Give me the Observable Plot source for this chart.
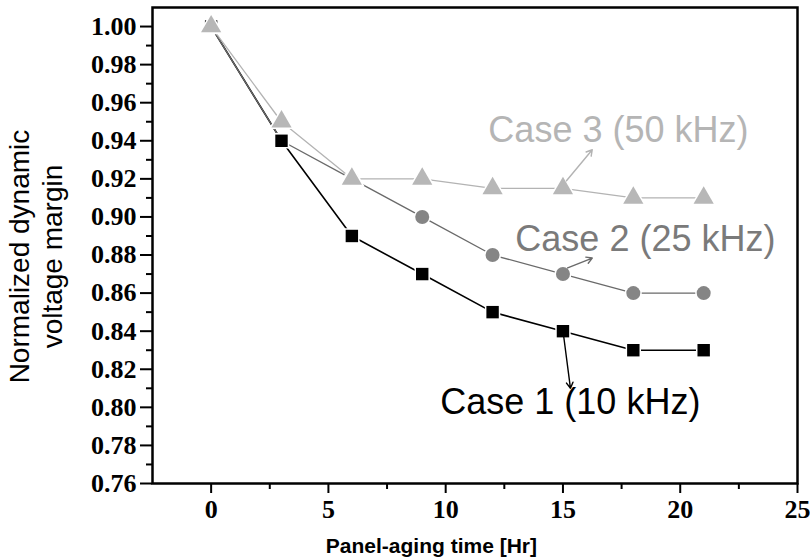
<!DOCTYPE html>
<html>
<head>
<meta charset="utf-8">
<script src="https://cdn.jsdelivr.net/npm/d3@7"></script>
<script src="https://cdn.jsdelivr.net/npm/@observablehq/plot@0.6"></script>
<style>
  html, body { margin: 0; padding: 0; background: #fff; }
  #chart svg { display: block; }
</style>
</head>
<body>
<div id="chart"></div>
<script>
// ---- data ----
const hours = [0, 3, 6, 9, 12, 15, 18, 21];
const case1 = [1.00, 0.94, 0.89, 0.87, 0.85, 0.84, 0.83, 0.83];
const case2 = [1.00, 0.94, 0.92, 0.90, 0.88, 0.87, 0.86, 0.86];
const case3 = [1.00, 0.95, 0.92, 0.92, 0.915, 0.915, 0.91, 0.91];

const seriesNames = ["Case 1 (10 kHz)", "Case 2 (25 kHz)", "Case 3 (50 kHz)"];
const seriesColors = ["#000000", "#858585", "#b7b7b7"];
const lineColors = ["#000000", "#6a6a6a", "#b3b3b3"];
const labelColors = ["#000000", "#7a7a7a", "#b5b5b5"];
const seriesSymbols = ["square", "circle", "triangle"];

// annotation label anchors (data coords) and arrows
const labelX = [9.77, 12.97, 11.82];
const labelY = [0.8026, 0.8880, 0.9455];
const arrowX1 = [15.02, 15.2, 15.15];
const arrowY1 = [0.8384, 0.8732, 0.919];
const arrowX2 = [15.32, 16.25, 16.25];
const arrowY2 = [0.810, 0.8784, 0.9353];

const xTicks = [0, 5, 10, 15, 20, 25];
const xMinor = [2.5, 7.5, 12.5, 17.5, 22.5];
const yTicks = d3.range(0, 13).map(i => +(0.76 + i * 0.02).toFixed(2));
const yMinor = d3.range(0, 12).map(i => +(0.77 + i * 0.02).toFixed(2));

const allVals = [case1, case2, case3];
const rows = [];
allVals.forEach((vals, s) => hours.forEach((h, i) => rows.push({s, x: h, y: vals[i]})));
const labels = seriesNames.map((name, s) => ({s, name, x: labelX[s], y: labelY[s]}));
const arrows = seriesNames.map((name, s) => ({s, x1: arrowX1[s], y1: arrowY1[s], x2: arrowX2[s], y2: arrowY2[s]}));

const serifTick = {fontFamily: "'Liberation Serif', 'Times New Roman', serif", fontWeight: "bold", fontSize: 26};

const marks = [
  // lines
  ...[0, 1, 2].map(s => Plot.line(rows.filter(d => d.s === s), {
    x: "x", y: "y", stroke: lineColors[s], strokeWidth: s === 0 ? 1.6 : 1.3
  })),
  // markers (order: case 2, case 1, case 3)
  ...[1, 0, 2].map(s => Plot.dot(rows.filter(d => d.s === s), {
    x: "x", y: "y", symbol: () => seriesSymbols[s], fill: seriesColors[s],
    r: s === 2 ? 7.5 : 7, stroke: "white", strokeWidth: 3, paintOrder: "stroke"
  })),
  // arrows
  Plot.arrow(arrows, {
    x1: "x1", y1: "y1", x2: "x2", y2: "y2",
    stroke: d => lineColors[d.s], strokeWidth: 1.4, headLength: 7
  }),
  // labels
  Plot.text(labels, {
    x: "x", y: "y", text: "name", textAnchor: "start", fill: d => labelColors[d.s],
    fontSize: 36, fontFamily: "'Liberation Sans', Arial, sans-serif"
  }),
  // axes
  Plot.axisY(yTicks, {tickSize: 12, tickPadding: 4, tickFormat: d3.format(".2f"), strokeWidth: 2, label: null, ...serifTick}),
  Plot.axisY(yMinor, {tickSize: 6, tickFormat: () => "", strokeWidth: 2, label: null}),
  Plot.axisX(xTicks, {tickSize: 10, tickPadding: 6, tickFormat: d3.format("d"), strokeWidth: 2, label: null, ...serifTick}),
  Plot.axisX(xMinor, {tickSize: 6, tickFormat: () => "", strokeWidth: 2, label: null}),
  Plot.frame({stroke: "#000", strokeWidth: 2.5}),
  // axis titles
  Plot.text(["Panel-aging time [Hr]"], {
    x: 9.39, frameAnchor: "bottom", dy: 69, text: d => d, fontSize: 21, fontWeight: "bold",
    fontFamily: "'Liberation Sans', Arial, sans-serif", fill: "#000"
  }),
  Plot.text(["Normalized dynamic\nvoltage margin"], {
    y: 0.8792, frameAnchor: "left", textAnchor: "middle", dx: -117.5, rotate: -90, text: d => d, fontSize: 28,
    lineHeight: 1.18, fontFamily: "'Liberation Sans', Arial, sans-serif", fill: "#000"
  })
];

const chart = Plot.plot({
  width: 810,
  height: 558,
  marginLeft: 152,
  marginRight: 13,
  marginTop: 7,
  marginBottom: 75,
  x: {domain: [-2.5, 25]},
  y: {domain: [0.76, 1.01]},
  style: {background: "#fff", color: "#000", overflow: "visible"},
  marks
});
document.getElementById("chart").appendChild(chart);
</script>
</body>
</html>
